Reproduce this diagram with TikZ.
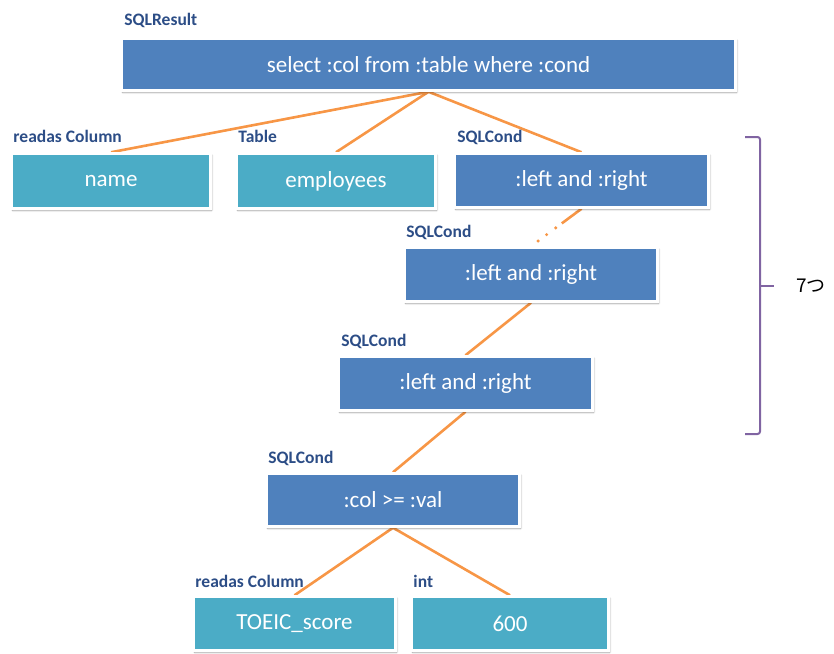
\documentclass[tikz,border=0pt]{standalone}
\usepackage{fontspec}
\setmainfont{Carlito}
\newfontfamily\jpfont{Noto Sans CJK JP}
\usetikzlibrary{shadows.blur,calc,backgrounds}

\definecolor{condblue}{HTML}{4F81BD}
\definecolor{leafteal}{HTML}{4BACC6}
\definecolor{tagblue}{HTML}{2C4D86}
\definecolor{linkorange}{HTML}{F79646}
\definecolor{bracepurple}{HTML}{8064A2}

\begin{document}
\begin{tikzpicture}[x=1pt,y=-1pt,
  box/.style={rectangle, draw=white, line width=2.5pt, inner sep=0pt,
    text=white, font=\fontsize{23}{26}\selectfont,
    blur shadow={shadow xshift=1.2pt, shadow yshift=-1.8pt,
      shadow blur steps=5, shadow opacity=40}},
  condbox/.style={box, fill=condblue},
  leafbox/.style={box, fill=leafteal},
  tag/.style={anchor=base west, inner sep=0pt, text=tagblue,
    font=\bfseries\fontsize{17.5}{20}\selectfont},
  link/.style={draw=linkorange, line width=2.6pt},
  bracket/.style={draw=bracepurple, line width=2pt, rounded corners=2.5pt}
]
\useasboundingbox (0,0) rectangle (834,653);

% parse tree boxes
\node[condbox, minimum width=614, minimum height=52] (top) at (428.5,64.5)
  {select :col from :table where :cond};
\node[leafbox, minimum width=199, minimum height=55] (name) at (111,181) {name};
\node[leafbox, minimum width=199, minimum height=55] (emp) at (336,181) {employees};
\node[condbox, minimum width=254, minimum height=54] (c1) at (581.5,180.5) {:left and :right};
\node[condbox, minimum width=253, minimum height=54] (c2) at (531,274.5) {:left and :right};
\node[condbox, minimum width=254, minimum height=54] (c3) at (465.5,383.5) {:left and :right};
\node[condbox, minimum width=253, minimum height=53] (c4) at (393,500) {:col >= :val};
\node[leafbox, minimum width=202, minimum height=54] (toeic) at (294.5,623.5) {TOEIC\_score};
\node[leafbox, minimum width=197, minimum height=54] (val) at (510,623.5) {600};

% type tags above the boxes
\node[tag] (ttop)   at ($(top.north west)+(4,-12)$)   {SQLResult};
\node[tag] (tname)  at ($(name.north west)+(3,-10)$)  {readas Column};
\node[tag] (temp)   at ($(emp.north west)+(3,-10)$)   {Table};
\node[tag] (tc1)    at ($(c1.north west)+(4,-10)$)    {SQLCond};
\node[tag] (tc2)    at ($(c2.north west)+(3,-9)$)     {SQLCond};
\node[tag] (tc3)    at ($(c3.north west)+(4,-9)$)     {SQLCond};
\node[tag] (tc4)    at ($(c4.north west)+(3,-9)$)     {SQLCond};
\node[tag] (ttoeic) at ($(toeic.north west)+(3,-8)$)  {readas Column};
\node[tag] (tval)   at ($(val.north west)+(3,-8)$)    {int};

% tree edges, behind the boxes
\begin{pgfonlayer}{background}
  \draw[link] (top.south) -- (name.north);
  \draw[link] (top.south) -- (emp.north);
  \draw[link] (top.south) -- (c1.north);
  % elided chain of conditions: short stub, then dots
  \coordinate (gap) at ($(c1.south)!0.39!(c2.north)$);
  \draw[link] (c1.south) -- (gap);
  \foreach \t in {0.51,0.69,0.86}
    \fill[linkorange] ($(c1.south)!\t!(c2.north)$) circle (1.7);
  \draw[link] (c2.south) -- (c3.north);
  \draw[link] (c3.south) -- (c4.north);
  \draw[link] (c4.south) -- (toeic.north);
  \draw[link] (c4.south) -- (val.north);
\end{pgfonlayer}

% bracket over the repeated conditions
\draw[bracket] (745,137) -- (760,137) -- (760,434) -- (745,434);
\draw[bracket, rounded corners=0pt] (760,285.5) -- (774,285.5);
\node[anchor=west, inner sep=0pt, font=\jpfont\fontsize{19}{22}\selectfont] (count) at (796,286) {7つ};
\end{tikzpicture}
\end{document}
